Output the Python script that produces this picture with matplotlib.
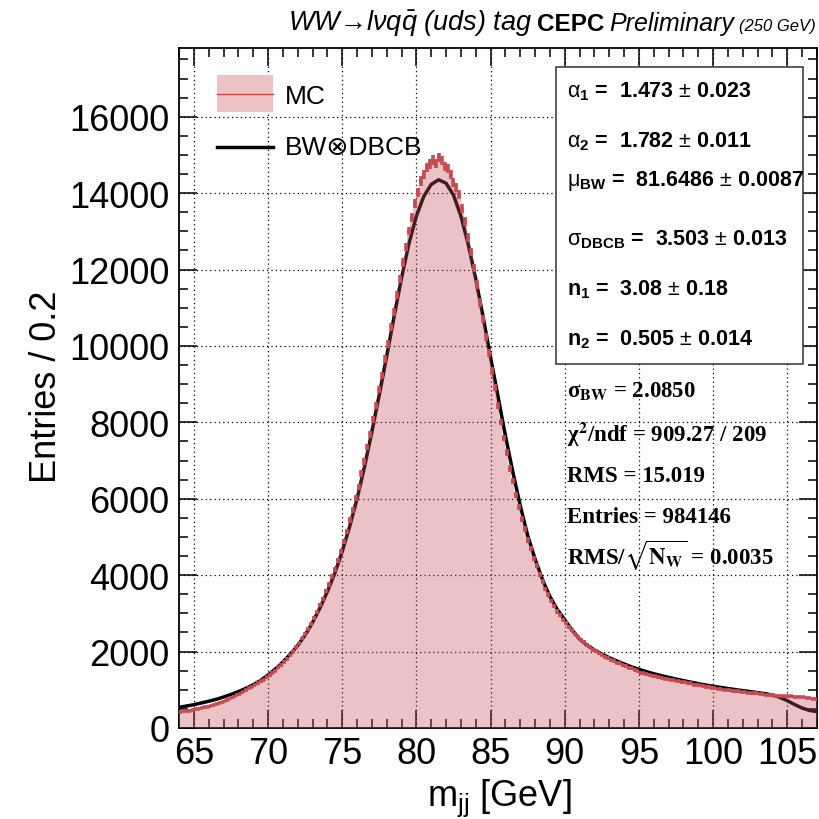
import numpy as np
import matplotlib
matplotlib.use("Agg")
import matplotlib.pyplot as plt
from matplotlib.patches import Rectangle
from matplotlib.lines import Line2D
from matplotlib.ticker import MultipleLocator

plt.rcParams['font.family'] = ['Liberation Sans', 'DejaVu Sans']
plt.rcParams['mathtext.fontset'] = 'custom'
plt.rcParams['mathtext.rm'] = 'Liberation Sans'
plt.rcParams['mathtext.it'] = 'Liberation Sans:italic'
plt.rcParams['mathtext.bf'] = 'Liberation Sans:bold'

# ---------------- data ----------------
x_min, x_max, bin_width = 64.0, 107.0, 0.2

mc_counts = [
    420, 432, 446, 458, 476,
    492, 505, 528, 540, 562,
    578, 603, 622, 652, 672,
    718, 745, 788, 818, 862,
    898, 948, 982, 1034, 1070,
    1124, 1166, 1224, 1268, 1326,
    1376, 1446, 1505, 1584, 1648,
    1736, 1815, 1916, 2004, 2116,
    2215, 2345, 2452, 2598, 2722,
    2885, 3032, 3218, 3384, 3590,
    3748, 3962, 4142, 4390, 4612,
    4885, 5142, 5438, 5712, 6030,
    6320, 6662, 6980, 7352, 7688,
    8080, 8436, 8852, 9228, 9662,
    10050, 10492, 10890, 11342, 11748,
    12190, 12588, 13012, 13360, 13735,
    14020, 14318, 14490, 14672, 14760,
    14868, 14770, 14935, 14860, 14690,
    14640, 14480, 14270, 14160, 13960,
    13590, 13265, 12838, 12462, 12040,
    11610, 11138, 10712, 10238, 9815,
    9340, 8912, 8440, 8010, 7588,
    7212, 6790, 6462, 6088, 5792,
    5470, 5212, 4918, 4692, 4438,
    4242, 4010, 3842, 3640, 3488,
    3318, 3186, 3052, 2958, 2832,
    2748, 2632, 2558, 2452, 2386,
    2302, 2248, 2172, 2126, 2052,
    2018, 1952, 1918, 1862, 1834,
    1782, 1758, 1712, 1696, 1642,
    1628, 1582, 1566, 1522, 1504,
    1446, 1438, 1402, 1396, 1364,
    1356, 1322, 1318, 1288, 1284,
    1262, 1254, 1228, 1226, 1198,
    1194, 1170, 1166, 1138, 1134,
    1118, 1108, 1084, 1080, 1056,
    1048, 1026, 1024, 1000, 998,
    982, 978, 958, 960, 942,
    944, 926, 924, 906, 904,
    888, 884, 866, 864, 852,
    856, 842, 846, 830, 838,
    826, 830, 812, 818, 802,
    804, 786, 790, 772, 768,
]

fit_step = 0.5
fit_values = [
    540, 575, 610, 655, 700, 750, 810, 878, 952, 1035,
    1130, 1245, 1385, 1545, 1725, 1930, 2160, 2430, 2760, 3140,
    3570, 4050, 4620, 5270, 6000, 6830, 7750, 8720, 9730, 10770,
    11780, 12680, 13400, 13920, 14230, 14350, 14260, 13950, 13400, 12650,
    11750, 10750, 9700, 8680, 7650, 6700, 5820, 5040, 4420, 3880,
    3440, 3100, 2830, 2560, 2330, 2165, 2040, 1935, 1840, 1755,
    1675, 1600, 1535, 1475, 1420, 1370, 1325, 1280, 1240, 1200,
    1160, 1125, 1092, 1062, 1033, 1005, 978, 952, 926, 898,
    862, 800, 715, 612, 522, 460, 428,
]

x_ticks = [65, 70, 75, 80, 85, 90, 95, 100, 105]
y_ticks = [0, 2000, 4000, 6000, 8000, 10000, 12000, 14000, 16000]
y_max = 17800

stats_lines = [
    r"$\mathrm{\alpha}_{\mathbf{1}}$ =  1.473 $\pm$ 0.023",
    r"$\mathrm{\alpha}_{\mathbf{2}}$ =  1.782 $\pm$ 0.011",
    r"$\mathrm{\mu}_{\mathbf{BW}}$ =  81.6486 $\pm$ 0.0087",
    r"$\mathrm{\sigma}_{\mathbf{DBCB}}$ =  3.503 $\pm$ 0.013",
    r"n$_{\mathbf{1}}$ =  3.08 $\pm$ 0.18",
    r"n$_{\mathbf{2}}$ =  0.505 $\pm$ 0.014",
]
extra_lines = [
    r"σ$_{\mathbf{BW}}$ = 2.0850",
    r"χ$^{\mathbf{2}}$/ndf = 909.27 / 209",
    r"RMS = 15.019",
    r"Entries = 984146",
    r"RMS/$\sqrt{\mathbf{N_{W}}}$ = 0.0035",
]

# ---------------- figure ----------------
W, H = 819, 820
fig = plt.figure(figsize=(W / 100, H / 100), dpi=100)
fx = lambda x: x / W
fy = lambda y: 1 - y / H

ax = fig.add_axes([fx(179), fy(729), fx(817) - fx(179), fy(49) - fy(729)])

counts = np.array(mc_counts, dtype=float)
edges = np.linspace(x_min, x_max, len(counts) + 1)
centers = 0.5 * (edges[:-1] + edges[1:])
fit_x = x_min + fit_step * np.arange(len(fit_values))

red = '#c84b52'
ax.plot(fit_x, fit_values, color='black', lw=2.5, zorder=2, solid_capstyle='butt')
ax.stairs(counts, edges, fill=True, color=(200/255, 80/255, 90/255), alpha=0.35,
          lw=0, zorder=3)
ax.errorbar(centers, counts, yerr=np.sqrt(counts), xerr=bin_width / 2, fmt='none',
            ecolor=red, elinewidth=2.6, capsize=0, zorder=4)

ax.set_xlim(x_min, x_max)
ax.set_ylim(0, y_max)
ax.set_xticks(x_ticks)
ax.set_yticks(y_ticks)
ax.xaxis.set_minor_locator(MultipleLocator(1))
ax.yaxis.set_minor_locator(MultipleLocator(500))
ax.tick_params(which='major', direction='in', length=13, width=1.1, top=True,
               right=True, labelsize=26, pad=6)
ax.tick_params(axis='y', which='major', pad=7)
ax.tick_params(which='minor', direction='in', length=6.5, width=1.1, top=True,
               right=True)
ax.grid(which='major', linestyle=(0, (1, 2.5)), color='black', lw=0.9, zorder=1)
ax.set_axisbelow(True)
for s in ax.spines.values():
    s.set_linewidth(1.3)

# axis titles
fig.text(fx(47), fy(387), "Entries / 0.2", rotation=90, ha='center', va='center',
         fontsize=26)
fig.text(fx(499), fy(806), r"m$_{\mathrm{jj}}$ [GeV]", ha='center', va='baseline',
         fontsize=26)

# legend (manual)
fig.patches.append(Rectangle((fx(217), fy(113)), fx(273) - fx(217), fy(76) - fy(113),
                             transform=fig.transFigure, facecolor='#ecc3c5',
                             edgecolor='none'))
fig.lines.append(Line2D([fx(217), fx(273)], [fy(95), fy(95)], transform=fig.transFigure,
                        color='#d04545', lw=1.0))
fig.lines.append(Line2D([fx(217), fx(273)], [fy(148), fy(148)], transform=fig.transFigure,
                        color='black', lw=2.5))
fig.text(fx(285), fy(97), "MC", ha='left', va='center', fontsize=19)
fig.text(fx(285), fy(148), "BW⊗DBCB", ha='left', va='center', fontsize=19,
         family=['Liberation Sans', 'DejaVu Sans'])

# stats box
fig.patches.append(Rectangle((fx(556), fy(365)), fx(803) - fx(556), fy(68) - fy(365),
                             transform=fig.transFigure, facecolor='white',
                             edgecolor='#333333', lw=1.1, zorder=5))
stat_baselines = [97, 147, 186, 245, 295, 345]
for txt, yb in zip(stats_lines, stat_baselines):
    fig.text(fx(567), fy(yb), txt, ha='left', va='baseline', fontsize=15.5,
             fontweight='bold', zorder=6)

extra_baselines = [397, 442, 482, 523, 565]
for txt, yb in zip(extra_lines, extra_baselines):
    fig.text(fx(567), fy(yb), txt, ha='left', va='baseline', fontsize=16.5,
             fontweight='bold', family=['Liberation Serif', 'DejaVu Serif'],
             math_fontfamily='stix', zorder=6)

# title pieces, chained from the right
fig.canvas.draw()
r = fig.canvas.get_renderer()
yb = fy(31)
pieces = [
    ("(250 GeV)", dict(fontsize=12, style='italic')),
    ("Preliminary", dict(fontsize=18, style='italic')),
    ("CEPC", dict(fontsize=17.5, fontweight='bold')),
    (r"WW→lνq$\bar{q}$ (uds) tag", dict(fontsize=19.5, style='italic',
                                         family=['Liberation Sans', 'DejaVu Sans'])),
]
xr = 816
gaps = [5, 5, 5]
for i, (txt, kw) in enumerate(pieces):
    t = fig.text(fx(xr), yb, txt, ha='right', va='baseline', **kw)
    bb = t.get_window_extent(r)
    xr = bb.x0 - (gaps[i] if i < len(gaps) else 0)

fig.savefig("out.png", dpi=100)
